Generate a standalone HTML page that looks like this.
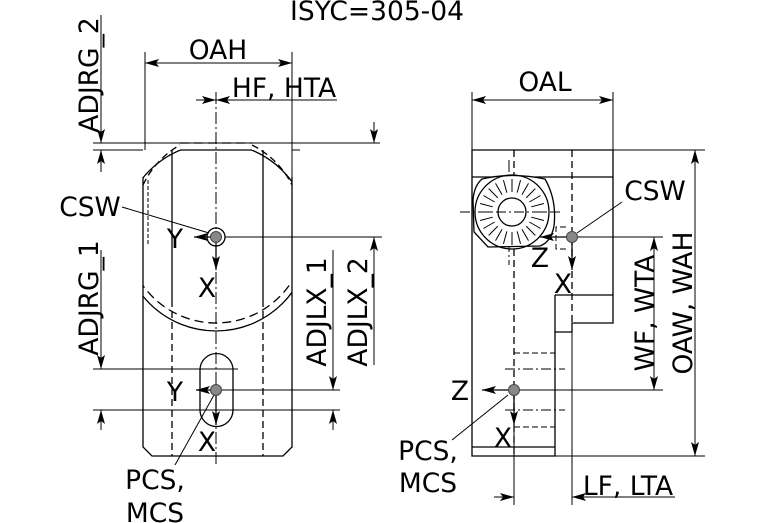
<!DOCTYPE html>
<html><head><meta charset="utf-8"><style>
html,body{margin:0;padding:0;background:#fff;}
svg{display:block;}
text{font-family:"DejaVu Sans","Liberation Sans",sans-serif;font-size:26.5px;fill:#000;}
</style></head><body>
<svg width="767" height="523" viewBox="0 0 767 523" xmlns="http://www.w3.org/2000/svg">
<defs>
<marker id="a" viewBox="0 0 14 8" refX="14" refY="4" markerWidth="14" markerHeight="8" markerUnits="userSpaceOnUse" orient="auto-start-reverse"><path d="M0,0 L14,4 L0,8 L3,4 Z" fill="#000"/></marker>
<clipPath id="body"><rect x="143" y="150" width="149" height="306"/></clipPath>
<clipPath id="low"><rect x="143" y="240" width="149" height="216"/></clipPath>
</defs>
<text x="377" y="20" text-anchor="middle">ISYC=305-04</text>

<g stroke="#000" fill="none" stroke-width="1.3">
<path d="M143,177 L143,447 L152,456 L283,456 L292,447 L292,177"/>
<g clip-path="url(#body)">
<circle cx="216" cy="237" r="94"/>
</g>
<line x1="180" y1="150" x2="252" y2="150"/>
<path d="M143,185 A90,90 0 0 1 180,145" stroke-dasharray="7,4"/>
<path d="M252,145 A90,90 0 0 1 292,185" stroke-dasharray="7,4"/>
<line x1="180" y1="143" x2="252" y2="143" stroke-dasharray="9,5"/>
<circle cx="216" cy="233" r="90" stroke-dasharray="9,5" clip-path="url(#low)"/>
<line x1="148" y1="180" x2="148" y2="245" stroke-dasharray="4,2" stroke-width="1"/>
<line x1="172" y1="150" x2="172" y2="300"/>
<line x1="263" y1="150" x2="263" y2="300"/>
<line x1="172" y1="300" x2="172" y2="456" stroke-dasharray="7,4"/>
<line x1="263" y1="300" x2="263" y2="456" stroke-dasharray="7,4"/>
<line x1="216" y1="92" x2="216" y2="465" stroke-dasharray="12,3,2,3" stroke-width="1"/>
<path d="M200,370 A16.5,16.5 0 0 1 233,370 L233,410 A16.5,16.5 0 0 1 200,410 Z"/>
<circle cx="216" cy="237" r="9"/>
<line x1="93" y1="143" x2="380" y2="143" stroke-width="1"/>
<line x1="93" y1="150" x2="143" y2="150" stroke-width="1"/>
<line x1="292" y1="150" x2="300" y2="150" stroke-width="1"/>
<line x1="101" y1="15" x2="101" y2="143" marker-end="url(#a)" stroke-width="1"/>
<line x1="101" y1="172" x2="101" y2="150" marker-end="url(#a)" stroke-width="1"/>
<line x1="101" y1="250" x2="101" y2="369" marker-end="url(#a)" stroke-width="1"/>
<line x1="101" y1="430" x2="101" y2="410" marker-end="url(#a)" stroke-width="1"/>
<line x1="93" y1="369" x2="238" y2="369" stroke-width="1"/>
<line x1="93" y1="410" x2="340" y2="410" stroke-width="1"/>
<line x1="225" y1="237" x2="382" y2="237" stroke-width="1"/>
<line x1="216" y1="390" x2="340" y2="390" stroke-width="1"/>
<line x1="145" y1="52" x2="145" y2="150" stroke-width="1"/>
<line x1="292" y1="52" x2="292" y2="177" stroke-width="1"/>
<line x1="145" y1="63" x2="292" y2="63" marker-start="url(#a)" marker-end="url(#a)" stroke-width="1"/>
<line x1="196" y1="100" x2="216" y2="100" marker-end="url(#a)" stroke-width="1"/>
<line x1="337" y1="100" x2="216" y2="100" marker-end="url(#a)" stroke-width="1"/>
<line x1="374" y1="122" x2="374" y2="143" marker-end="url(#a)" stroke-width="1"/>
<line x1="374" y1="365" x2="374" y2="237" marker-end="url(#a)" stroke-width="1"/>
<line x1="333" y1="250" x2="333" y2="390" marker-end="url(#a)" stroke-width="1"/>
<line x1="333" y1="430" x2="333" y2="410" marker-end="url(#a)" stroke-width="1"/>
<line x1="216" y1="237" x2="194" y2="237" marker-end="url(#a)" stroke-width="1.3"/>
<line x1="216" y1="237" x2="216" y2="270" marker-end="url(#a)" stroke-width="1.3"/>
<line x1="216" y1="390" x2="196" y2="390" marker-end="url(#a)" stroke-width="1.3"/>
<line x1="216" y1="390" x2="216" y2="425" marker-end="url(#a)" stroke-width="1.3"/>
<line x1="122" y1="207" x2="209" y2="233" stroke-width="1"/>
<line x1="175" y1="465" x2="214" y2="395" stroke-width="1"/>

<path d="M472,150 L613,150 L613,323 L572,323 L572,332 L555,332 L555,456 L472,456 Z"/>
<line x1="555" y1="295" x2="613" y2="295"/>
<line x1="555" y1="295" x2="555" y2="332"/>
<line x1="472" y1="177" x2="613" y2="177"/>
<line x1="472" y1="447" x2="555" y2="447"/>
<line x1="514" y1="150" x2="514" y2="456" stroke-dasharray="7,4"/>
<line x1="572" y1="150" x2="572" y2="323" stroke-dasharray="7,4"/>
<line x1="572" y1="323" x2="572" y2="505" stroke-width="1"/>
<line x1="509" y1="160" x2="509" y2="265" stroke-dasharray="12,3,2,3" stroke-width="1"/>
<line x1="514" y1="353" x2="555" y2="353" stroke-dasharray="6,3" stroke-width="1"/>
<line x1="505" y1="369" x2="565" y2="369" stroke-dasharray="10,3,2,3" stroke-width="1"/>
<line x1="505" y1="410" x2="565" y2="410" stroke-dasharray="10,3,2,3" stroke-width="1"/>
<line x1="514" y1="427" x2="555" y2="427" stroke-dasharray="6,3" stroke-width="1"/>
<path d="M482,179 Q512,172 545,179 Q557,200 554,226 Q551,242 540,246 L488,247 L474,232 L473,200 Q474,186 482,179 Z" fill="#fff"/>
<circle cx="512" cy="212" r="37"/>
<circle cx="512" cy="212" r="14"/>
<g stroke-width="1">
<line x1="532" y1="212" x2="545" y2="212" transform="rotate(0 512 212)"/>
<line x1="532" y1="212" x2="545" y2="212" transform="rotate(15 512 212)"/>
<line x1="532" y1="212" x2="545" y2="212" transform="rotate(30 512 212)"/>
<line x1="532" y1="212" x2="545" y2="212" transform="rotate(45 512 212)"/>
<line x1="532" y1="212" x2="545" y2="212" transform="rotate(60 512 212)"/>
<line x1="532" y1="212" x2="545" y2="212" transform="rotate(75 512 212)"/>
<line x1="532" y1="212" x2="545" y2="212" transform="rotate(90 512 212)"/>
<line x1="532" y1="212" x2="545" y2="212" transform="rotate(105 512 212)"/>
<line x1="532" y1="212" x2="545" y2="212" transform="rotate(120 512 212)"/>
<line x1="532" y1="212" x2="545" y2="212" transform="rotate(135 512 212)"/>
<line x1="532" y1="212" x2="545" y2="212" transform="rotate(150 512 212)"/>
<line x1="532" y1="212" x2="545" y2="212" transform="rotate(165 512 212)"/>
<line x1="532" y1="212" x2="545" y2="212" transform="rotate(180 512 212)"/>
<line x1="532" y1="212" x2="545" y2="212" transform="rotate(195 512 212)"/>
<line x1="532" y1="212" x2="545" y2="212" transform="rotate(210 512 212)"/>
<line x1="532" y1="212" x2="545" y2="212" transform="rotate(225 512 212)"/>
<line x1="532" y1="212" x2="545" y2="212" transform="rotate(240 512 212)"/>
<line x1="532" y1="212" x2="545" y2="212" transform="rotate(255 512 212)"/>
<line x1="532" y1="212" x2="545" y2="212" transform="rotate(270 512 212)"/>
<line x1="532" y1="212" x2="545" y2="212" transform="rotate(285 512 212)"/>
<line x1="532" y1="212" x2="545" y2="212" transform="rotate(300 512 212)"/>
<line x1="532" y1="212" x2="545" y2="212" transform="rotate(315 512 212)"/>
<line x1="532" y1="212" x2="545" y2="212" transform="rotate(330 512 212)"/>
<line x1="532" y1="212" x2="545" y2="212" transform="rotate(345 512 212)"/>
</g>
<line x1="460" y1="212" x2="562" y2="212" stroke-dasharray="10,3,2,3" stroke-width="1"/>
<path d="M566,227 L556,227 L556,249 L566,249" stroke-dasharray="6,3" stroke-width="1"/>
<line x1="472" y1="92" x2="472" y2="150" stroke-width="1"/>
<line x1="613" y1="92" x2="613" y2="150" stroke-width="1"/>
<line x1="472" y1="100" x2="613" y2="100" marker-start="url(#a)" marker-end="url(#a)" stroke-width="1"/>
<line x1="613" y1="150" x2="705" y2="150" stroke-width="1"/>
<line x1="555" y1="456" x2="705" y2="456" stroke-width="1"/>
<line x1="695" y1="150" x2="695" y2="456" marker-start="url(#a)" marker-end="url(#a)" stroke-width="1"/>
<line x1="572" y1="237" x2="663" y2="237" stroke-width="1"/>
<line x1="514" y1="390" x2="663" y2="390" stroke-width="1"/>
<line x1="654" y1="237" x2="654" y2="390" marker-start="url(#a)" marker-end="url(#a)" stroke-width="1"/>
<line x1="514" y1="390" x2="514" y2="505" stroke-width="1"/>
<line x1="494" y1="497" x2="514" y2="497" marker-end="url(#a)" stroke-width="1"/>
<line x1="675" y1="497" x2="572" y2="497" marker-end="url(#a)" stroke-width="1"/>
<line x1="572" y1="237" x2="540" y2="237" marker-end="url(#a)" stroke-width="1.3"/>
<line x1="572" y1="237" x2="572" y2="270" marker-end="url(#a)" stroke-width="1.3"/>
<line x1="514" y1="390" x2="482" y2="390" marker-end="url(#a)" stroke-width="1.3"/>
<line x1="514" y1="390" x2="514" y2="425" marker-end="url(#a)" stroke-width="1.3"/>
<line x1="622" y1="202" x2="577" y2="233" stroke-width="1"/>
<line x1="452" y1="440" x2="508" y2="395" stroke-width="1"/>
</g>
<g fill="#888" stroke="#444" stroke-width="1">
<circle cx="216" cy="237" r="5.5"/>
<circle cx="216" cy="390" r="5.5"/>
<circle cx="572" cy="237" r="5.5"/>
<circle cx="514" cy="390" r="5.5"/>
</g>

<text x="218" y="59" text-anchor="middle">OAH</text>
<text x="284" y="97" text-anchor="middle">HF, HTA</text>
<text x="90" y="216" text-anchor="middle">CSW</text>
<text x="175" y="248" text-anchor="middle">Y</text>
<text x="207" y="297" text-anchor="middle">X</text>
<text x="175" y="401" text-anchor="middle">Y</text>
<text x="207" y="451" text-anchor="middle">X</text>
<text x="155" y="489" text-anchor="middle">PCS,</text>
<text x="155" y="522" text-anchor="middle">MCS</text>
<text transform="translate(98,75) rotate(-90)" text-anchor="middle">ADJRG_2</text>
<text transform="translate(98,298) rotate(-90)" text-anchor="middle">ADJRG_1</text>
<text transform="translate(326,312) rotate(-90)" text-anchor="middle">ADJLX_1</text>
<text transform="translate(367,312) rotate(-90)" text-anchor="middle">ADJLX_2</text>

<text x="545" y="91" text-anchor="middle">OAL</text>
<text x="655" y="200" text-anchor="middle">CSW</text>
<text x="540" y="267" text-anchor="middle">Z</text>
<text x="563" y="293" text-anchor="middle">X</text>
<text x="460" y="400" text-anchor="middle">Z</text>
<text x="503" y="447" text-anchor="middle">X</text>
<text x="428" y="460" text-anchor="middle">PCS,</text>
<text x="428" y="492" text-anchor="middle">MCS</text>
<text x="628" y="495" text-anchor="middle">LF, LTA</text>
<text transform="translate(654,313) rotate(-90)" text-anchor="middle">WF, WTA</text>
<text transform="translate(692,303) rotate(-90)" text-anchor="middle">OAW, WAH</text>
</svg>
</body></html>
